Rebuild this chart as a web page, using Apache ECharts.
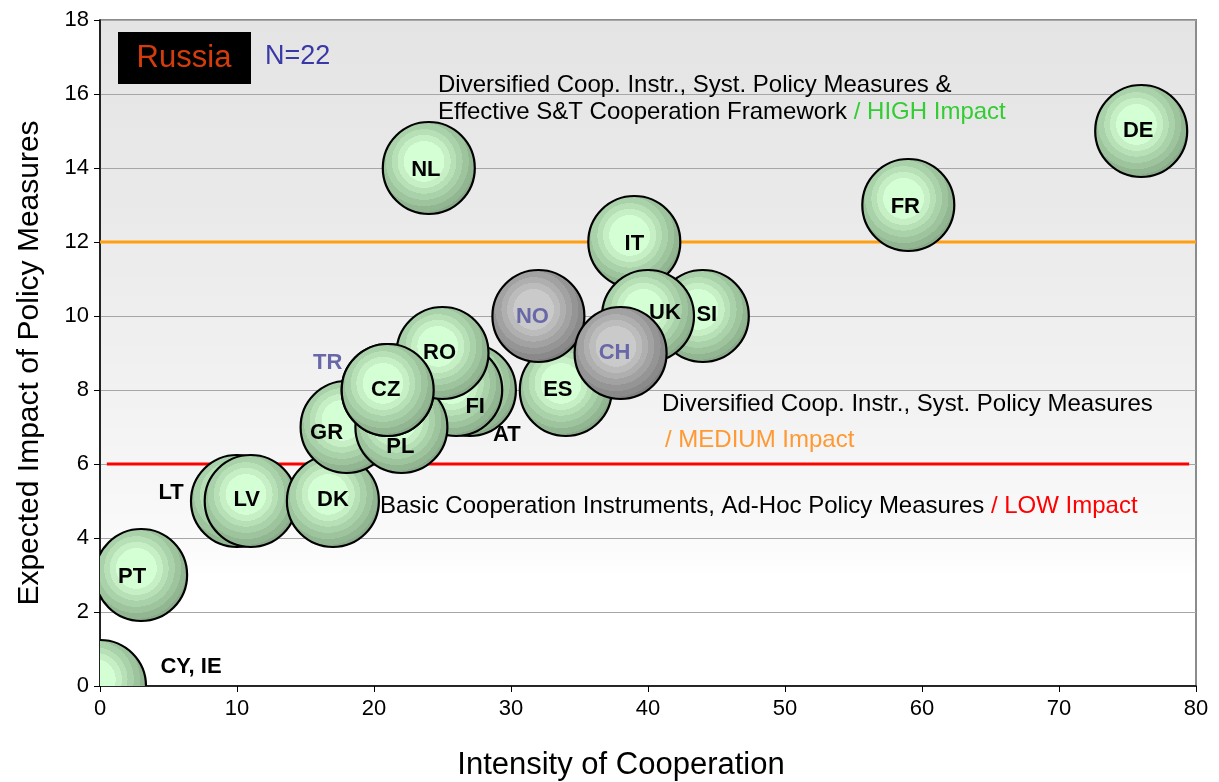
<!DOCTYPE html>
<html>
<head>
<meta charset="utf-8">
<script src="https://cdn.jsdelivr.net/npm/echarts@6/dist/echarts.min.js"></script>
<style>
html,body{margin:0;padding:0;background:#fff;}
#chart{width:1219px;height:782px;}
</style>
</head>
<body>
<div id="chart"></div>
<script>
// ---- data ----
const countries = ['CY, IE','PT','LT','LV','DK','AT','FI','GR','PL','TR','RO','CZ','SI','IT','UK','ES','NO','CH','NL','FR','DE'];
const intensity = [0, 3, 10, 11, 17, 27, 26, 18, 22, 21, 25, 21, 44, 39, 40, 34, 32, 38, 24, 59, 76];
const impact    = [0, 3, 5, 5, 5, 8, 8, 7, 7, 8, 9, 8, 10, 12, 10, 8, 10, 9, 14, 13, 15];
const status    = ['EU','EU','EU','EU','EU','EU','EU','EU','EU','AC','EU','EU','EU','EU','EU','EU','AC','AC','EU','EU','EU'];
const thresholdHigh = 12;
const thresholdLow = 6;
const xTicks = {min: 0, max: 80, interval: 10};
const yTicks = {min: 0, max: 18, interval: 2};
const countryName = 'Russia';
const sampleLabel = 'N=22';

// ---- styling (label nudges in px) ----
const nudge = {
  'CY, IE': [91, -19], 'PT': [-9, 2], 'LT': [-66, -8], 'LV': [-4, -1], 'DK': [0, -1],
  'AT': [37, 45], 'FI': [19, 17], 'GR': [-20, 6], 'PL': [-1, 20], 'TR': [-60, -27],
  'RO': [-3, 0], 'CZ': [-2, 0], 'SI': [4, -1], 'IT': [0, 2], 'UK': [17, -3],
  'ES': [-8, 0], 'NO': [-6, 1], 'CH': [-6, 0], 'NL': [-3, 2], 'FR': [-3, 2], 'DE': [-3, 0]
};
function stepped(cols, edges) {
  const stops = [];
  let prev = 0;
  cols.forEach((c, i) => {
    const e = edges[i];
    stops.push({offset: prev, color: c});
    stops.push({offset: e, color: c});
    prev = e;
  });
  return stops;
}
const ringEdges = [0.36, 0.47, 0.57, 0.68, 0.79, 0.89, 1];
const greenStops = stepped(['#d4fed4','#c6efc6','#b7e0b7','#aad2aa','#9ec49e','#92b692','#8aab8a'], ringEdges);
const grayStops  = stepped(['#cacaca','#bcbcbc','#afafaf','#a2a2a2','#959595','#8a8a8a','#808080'], ringEdges);

const FONT = '"Liberation Sans", Arial, sans-serif';
const chart = echarts.init(document.getElementById('chart'));

const bubbleData = countries.map((c, i) => [intensity[i], impact[i], i]);

const option = {
  animation: false,
  backgroundColor: '#ffffff',
  grid: {
    left: 100, right: 23, top: 20, bottom: 96,
    show: true,
    borderColor: '#8c8c8c', borderWidth: 2,
    backgroundColor: new echarts.graphic.LinearGradient(0, 0, 0, 1, [
      {offset: 0, color: '#e4e4e4'},
      {offset: 0.3, color: '#eaeaea'},
      {offset: 0.6, color: '#f3f3f3'},
      {offset: 0.78, color: '#fafafa'},
      {offset: 0.835, color: '#ffffff'},
      {offset: 1, color: '#ffffff'}
    ])
  },
  xAxis: {
    type: 'value', min: xTicks.min, max: xTicks.max, interval: xTicks.interval,
    axisLine: {show: true, lineStyle: {color: '#000', width: 1.5}},
    axisTick: {show: true, length: 6, lineStyle: {color: '#000'}},
    axisLabel: {color: '#000', fontSize: 22, fontFamily: FONT, margin: 12},
    splitLine: {show: false}
  },
  yAxis: {
    type: 'value', min: yTicks.min, max: yTicks.max, interval: yTicks.interval,
    axisLine: {show: true, lineStyle: {color: '#000', width: 1.5}},
    axisTick: {show: true, length: 6, lineStyle: {color: '#000'}},
    axisLabel: {color: '#000', fontSize: 22, fontFamily: FONT, margin: 11},
    splitLine: {show: true, lineStyle: {color: '#a6a6a6', width: 1}}
  },
  series: [
    {
      type: 'line', z: 1, symbol: 'none', silent: true,
      data: [[xTicks.min, thresholdHigh], [xTicks.max, thresholdHigh]],
      lineStyle: {color: '#ff9f10', width: 3}
    },
    {
      type: 'line', z: 1, symbol: 'none', silent: true,
      data: [[xTicks.min + 0.5, thresholdLow], [xTicks.max - 0.5, thresholdLow]],
      lineStyle: {color: '#ff0000', width: 3}
    },
    {
      type: 'custom', z: 3, clip: true,
      data: bubbleData,
      renderItem: function (params, api) {
        const i = api.value(2);
        const p = api.coord([api.value(0), api.value(1)]);
        const name = countries[i];
        const assoc = status[i] === 'AC';
        const nd = nudge[name] || [0, 0];
        return {
          type: 'group',
          children: [
            {
              type: 'circle',
              shape: {cx: p[0], cy: p[1], r: 46},
              style: {
                fill: new echarts.graphic.RadialGradient(0.45, 0.43, 0.6, assoc ? grayStops : greenStops),
                stroke: '#000', lineWidth: 2.2
              }
            },
            {
              type: 'text',
              x: p[0] + nd[0], y: p[1] + nd[1],
              style: {
                text: name,
                font: 'bold 22px ' + FONT,
                fill: assoc ? '#6868a8' : '#000',
                align: 'center', verticalAlign: 'middle'
              }
            }
          ]
        };
      }
    }
  ],
  graphic: [
    {type: 'rect', left: 118, top: 32, shape: {width: 133, height: 52}, style: {fill: '#000'}, z: 10},
    {type: 'text', x: 184, y: 58, z: 11, style: {text: countryName, font: '31px ' + FONT, fill: '#d53c0c', align: 'center', verticalAlign: 'middle'}},
    {type: 'text', x: 265, y: 57, z: 11, style: {text: sampleLabel, font: '27px ' + FONT, fill: '#3838a6', align: 'left', verticalAlign: 'middle'}},
    {type: 'text', x: 438, y: 85, z: 11, style: {text: 'Diversified Coop. Instr., Syst. Policy Measures &', font: '24px ' + FONT, fill: '#000', align: 'left', verticalAlign: 'middle'}},
    {type: 'text', x: 438, y: 112, z: 11, style: {
      text: '{a|Effective S&T Cooperation Framework }{g|/ HIGH Impact}',
      align: 'left', verticalAlign: 'middle',
      rich: {a: {font: '24px ' + FONT, fill: '#000'}, g: {font: '24px ' + FONT, fill: '#33cc33'}}
    }},
    {type: 'text', x: 662, y: 404, z: 11, style: {text: 'Diversified Coop. Instr., Syst. Policy Measures', font: '24px ' + FONT, fill: '#000', align: 'left', verticalAlign: 'middle'}},
    {type: 'text', x: 665, y: 440, z: 11, style: {text: '/ MEDIUM Impact', font: '24px ' + FONT, fill: '#ff9933', align: 'left', verticalAlign: 'middle'}},
    {type: 'text', x: 380, y: 506, z: 11, style: {
      text: '{a|Basic Cooperation Instruments, Ad-Hoc Policy Measures }{r|/ LOW Impact}',
      align: 'left', verticalAlign: 'middle',
      rich: {a: {font: '24px ' + FONT, fill: '#000'}, r: {font: '24px ' + FONT, fill: '#ff0000'}}
    }},
    {type: 'text', x: 621, y: 765, z: 11, style: {text: 'Intensity of Cooperation', font: '31px ' + FONT, fill: '#000', align: 'center', verticalAlign: 'middle'}},
    {type: 'text', x: 30, y: 363, rotation: Math.PI / 2, z: 11, style: {text: 'Expected Impact of Policy Measures', font: '30px ' + FONT, fill: '#000', align: 'center', verticalAlign: 'middle'}}
  ]
};
chart.setOption(option);
</script>
</body>
</html>
